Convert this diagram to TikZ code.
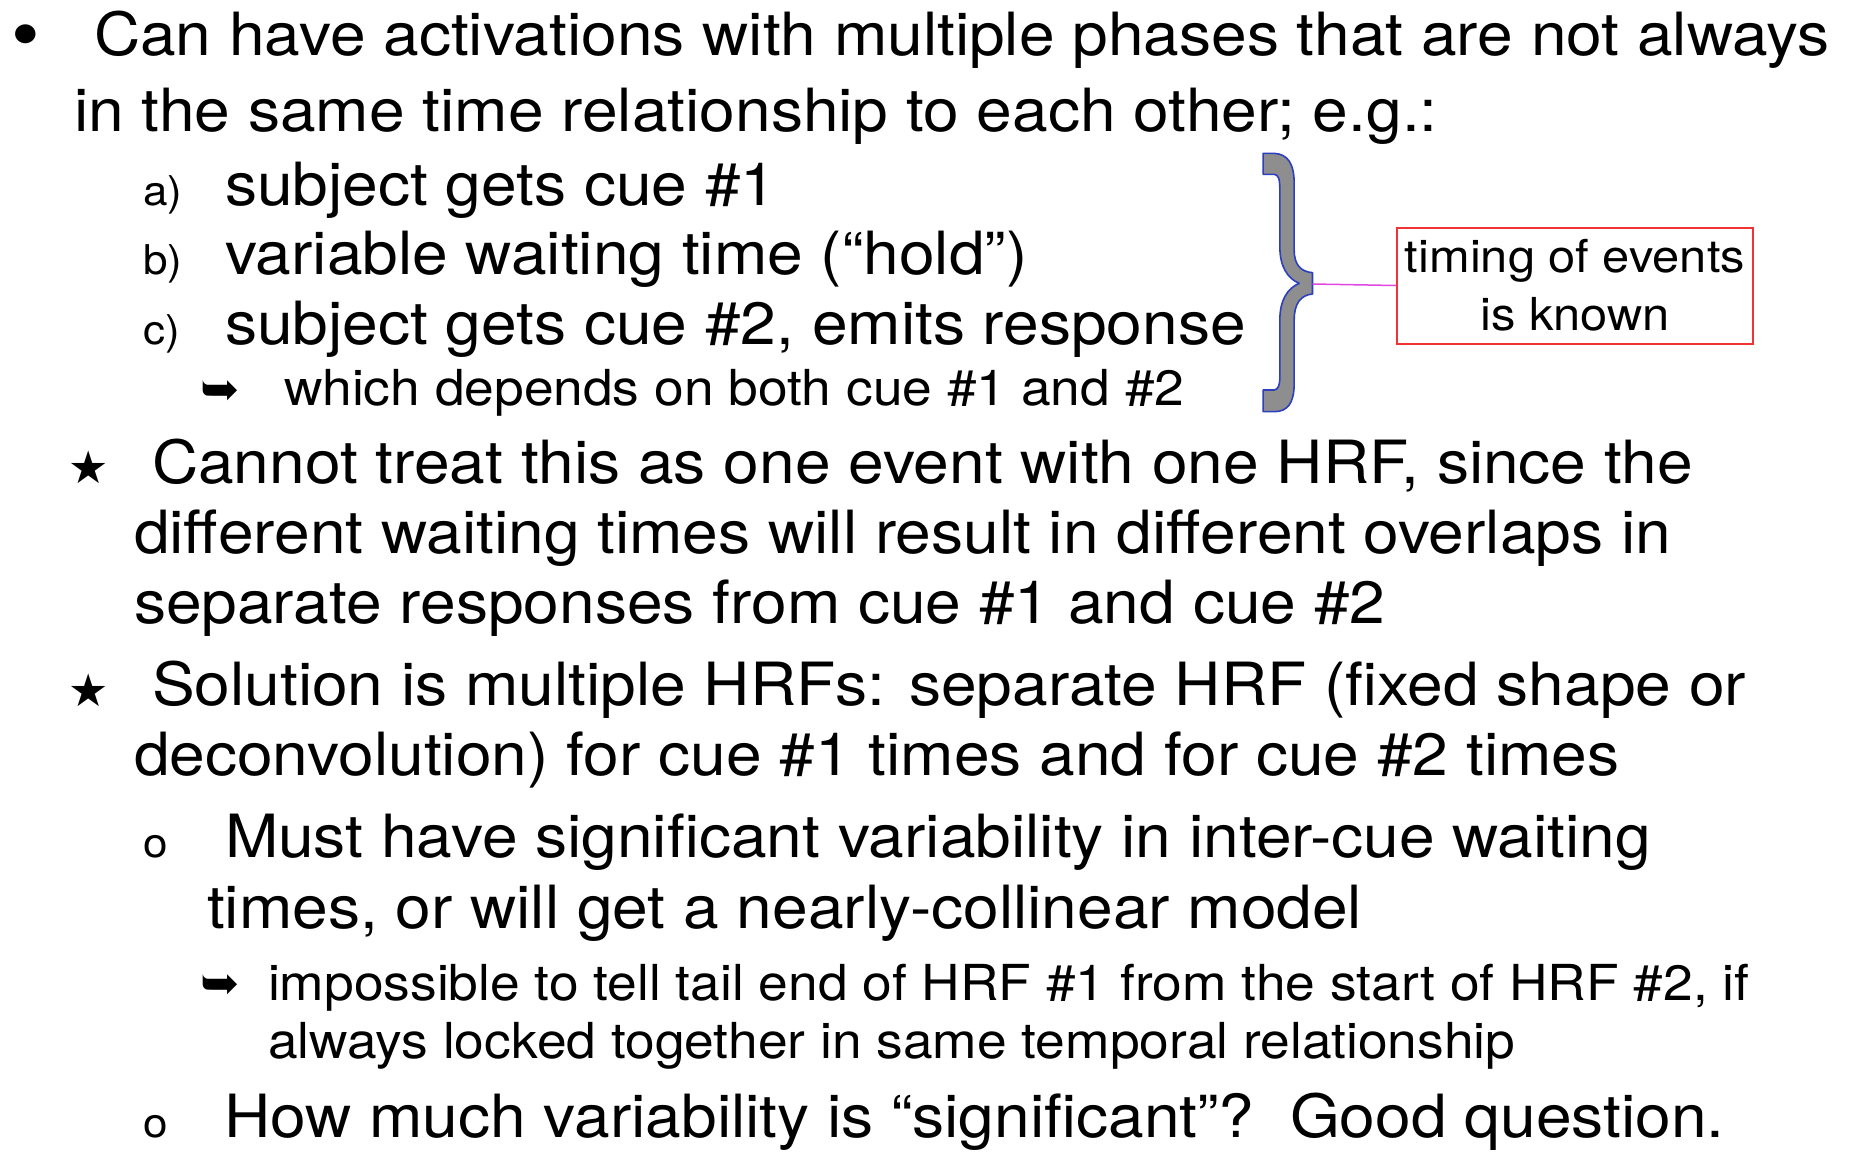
\documentclass[tikz,border=0pt]{standalone}
\usepackage{fontspec}
\setmainfont{TeX Gyre Heros}[FakeStretch=1.075]
\newfontfamily\symfont{DejaVu Sans}
\definecolor{bracegray}{HTML}{8E8E8E}
\definecolor{braceblue}{HTML}{2B3FBF}
\definecolor{boxred}{HTML}{F03434}
\definecolor{linkmag}{HTML}{E246E2}
\tikzset{
  txt/.style={anchor=base west, inner sep=0pt, outer sep=0pt},
  big/.style={txt, font=\fontsize{29.8}{36}\selectfont},
  mid/.style={txt, font=\fontsize{24.8}{30}\selectfont},
  lbl/.style={txt, font=\fontsize{20.5}{24}\selectfont},
  sym/.style={anchor=center, inner sep=0pt, outer sep=0pt},
  dot/.style={txt, font=\fontsize{38}{40}\selectfont},
  starsym/.style={sym, font=\symfont\fontsize{22.5}{26}\selectfont},
  arrsym/.style={sym, font=\symfont\fontsize{23.5}{26}\selectfont},
  notebox/.style={draw=boxred, line width=1pt, inner sep=0pt, minimum width=178pt, minimum height=58pt, align=center, font=\fontsize{22.7}{29}\selectfont},
  link/.style={draw=linkmag, line width=0.75pt},
}
\begin{document}
\begin{tikzpicture}[x=0.5pt, y=-0.5pt]
\useasboundingbox (0,0) rectangle (1858,1153);
% first bullet
\node[dot] (b1) at (11.5,60) {•};
\node[big] (l1) at (94,55) {Can have activations with multiple phases that are not always};
\node[big] (l2) at (74,131) {in the same time relationship to each other; e.g.:};
\node[lbl] (la) at (143,205) {a)};
\node[big] (ta) at (225,205) {subject gets cue \#1};
\node[lbl] (lb) at (143,274) {b)};
\node[big] (tb) at (225,274) {variable waiting time (“hold”)};
\node[lbl] (lc) at (143,344) {c)};
\node[big] (tc) at (225,344) {subject gets cue \#2, emits response};
\node[arrsym] (a1) at (220,393) {➥};
\node[mid] (td) at (284,405) {which depends on both cue \#1 and \#2};
% stars
\node[starsym] (s1) at (89,467) {★};
\node[big] (m1) at (152,483) {Cannot treat this as one event with one HRF, since the};
\node[big] (m2) at (134,553) {different waiting times will result in different overlaps in};
\node[big] (m3) at (134,623) {separate responses from cue \#1 and cue \#2};
\node[starsym] (s2) at (89,690) {★};
\node[big] (n1) at (152,705) {Solution is multiple HRFs: separate HRF (fixed shape or};
\node[big] (n2) at (134,775) {deconvolution) for cue \#1 times and for cue \#2 times};
% o items
\node[lbl] (o1) at (143,857) {o};
\node[big] (p1) at (225,857) {Must have significant variability in inter-cue waiting};
\node[big] (p2) at (207,928) {times, or will get a nearly-collinear model};
\node[arrsym] (a2) at (220,987) {➥};
\node[mid] (q1) at (268,1000) {impossible to tell tail end of HRF \#1 from the start of HRF \#2, if};
\node[mid] (q2) at (268,1058) {always locked together in same temporal relationship};
\node[lbl] (o2) at (143,1137) {o};
\node[big] (r1) at (224,1137) {How much variability is “significant”?\ \ Good question.};
% brace
\begin{scope}[shift={(1242.5,140)}, scale=1/3]
\filldraw[fill=bracegray, draw=braceblue, line width=0.8pt, line join=round]
  (62,40) -- (95,40) .. controls (135,42) and (155,70) .. (155,130)
  -- (155,330) .. controls (155,375) and (175,395) .. (210,398)
  -- (210,462) .. controls (175,465) and (155,490) .. (155,540)
  -- (155,730) .. controls (155,790) and (135,815) .. (95,815)
  -- (62,815) -- (62,750) -- (95,750)
  .. controls (108,748) and (112,735) .. (112,710)
  -- (112,540) .. controls (112,480) and (135,445) .. (170,430)
  .. controls (135,415) and (112,380) .. (112,320)
  -- (112,150) .. controls (112,115) and (108,105) .. (95,103)
  -- (62,103) -- cycle;
\coordinate (tip) at (210,432);
\end{scope}
\node[notebox] (box) at (1575,285.5) {timing of events\\is known};
\draw[link] (tip) -- (box.west);
\end{tikzpicture}
\end{document}
